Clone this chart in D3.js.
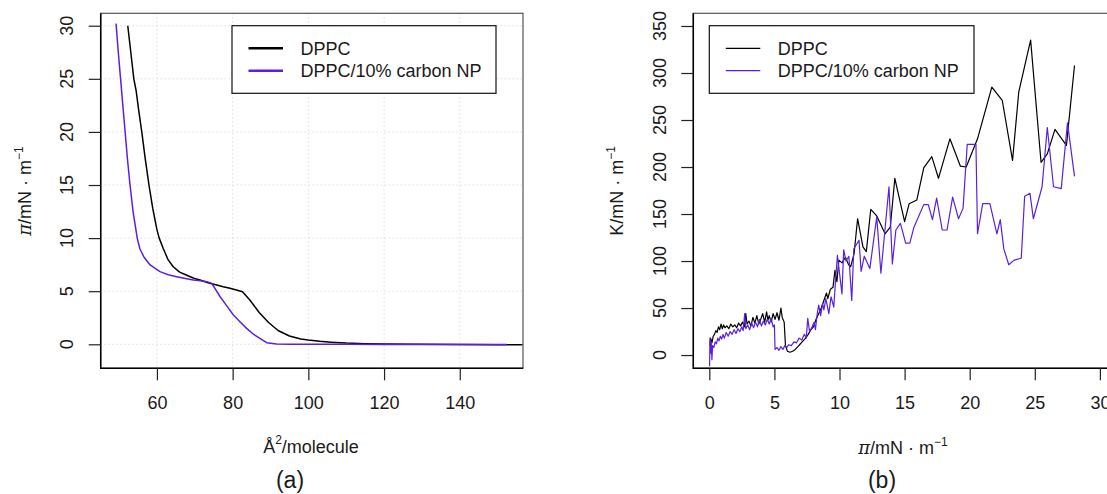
<!DOCTYPE html>
<html>
<head>
<meta charset="utf-8">
<script src="https://cdn.jsdelivr.net/npm/d3@7"></script>
<style>
  body { margin: 0; background: #fff; }
  text { font-family: "Liberation Sans", Arial, sans-serif; fill: #1a1a1a; }
</style>
</head>
<body>
<svg id="my_svg"></svg>
<script>
const width = 1107;
const height = 494;

const BLUE = '#5b1fe4';

// (a) isotherms: [area Å²/molecule, π mN/m]
const dppcIso = [
    [52.3, 30], [53.1, 27.5], [53.9, 25], [54.5, 23.9], [55.2, 22], [56.0, 20], [56.9, 17.5],
    [57.9, 15], [58.9, 12.8], [60.0, 10.8], [60.6, 10], [61.7, 9.0], [62.9, 8.0], [64.3, 7.3],
    [66.0, 6.8], [67.9, 6.5], [69.9, 6.2], [71.4, 6.05], [73.5, 5.8], [75.8, 5.58], [77.5, 5.42],
    [79.3, 5.27], [81.0, 5.12], [82.6, 4.95], [84.6, 4.15], [87.0, 3.0], [89.5, 2.05], [92.0, 1.3],
    [95.0, 0.78], [98.0, 0.5], [100.0, 0.4], [103.0, 0.28], [106.0, 0.2], [110.0, 0.12],
    [115.0, 0.06], [120.0, 0.03], [130.0, 0.0], [140.0, -0.02], [150.0, -0.04], [156.6, -0.05]
];
const npIso = [
    [49.2, 30.2], [49.8, 27.5], [50.4, 25], [51.0, 22.5], [51.6, 20], [52.2, 17.5], [52.9, 15],
    [53.7, 12.5], [54.8, 10], [55.5, 9.0], [56.6, 8.2], [58.2, 7.47], [60.8, 6.84], [63.0, 6.55],
    [65.2, 6.37], [67.5, 6.2], [69.6, 6.05], [71.5, 5.98], [73.2, 5.9], [74.5, 5.74], [75.6, 5.1],
    [76.7, 4.48], [78.5, 3.6], [80.2, 2.76], [82.0, 2.1], [83.7, 1.5], [85.5, 0.95], [87.2, 0.56],
    [89.0, 0.15], [91.6, 0.03], [95.0, 0.01], [100.0, 0.0], [110.0, 0.0], [120.0, -0.01],
    [130.0, -0.02], [140.0, -0.02], [152.4, -0.03]
];

// (b) compression modulus: [π mN/m, K mN/m]
const dppcK = [
    [0.05, 10], [0.1, 18], [0.2, 13], [0.3, 20], [0.4, 22], [0.5, 26], [0.6, 24], [0.7, 30],
    [0.8, 27], [0.9, 33], [1.0, 28], [1.1, 32], [1.2, 29], [1.35, 31], [1.5, 28], [1.65, 33],
    [1.8, 30], [1.95, 32], [2.1, 29], [2.25, 34], [2.4, 31], [2.55, 35], [2.7, 30], [2.8, 44],
    [2.9, 33], [3.05, 36], [3.2, 31], [3.35, 40], [3.5, 34], [3.65, 42], [3.8, 33], [3.95, 38],
    [4.1, 44], [4.25, 35], [4.4, 46], [4.5, 37], [4.6, 42], [4.75, 35], [4.9, 44], [5.05, 38],
    [5.2, 45], [5.35, 37], [5.5, 50], [5.6, 40], [5.75, 35], [5.85, 10], [6.0, 4], [6.2, 3],
    [6.4, 4], [6.6, 6], [6.8, 9], [7.0, 12], [7.2, 15], [7.4, 18], [7.6, 22], [7.8, 27],
    [8.0, 30], [8.2, 38], [8.4, 44], [8.6, 50], [8.8, 58], [9.0, 66], [9.1, 60], [9.3, 70],
    [9.5, 72], [9.65, 90], [9.8, 78], [9.95, 101], [10.2, 98], [10.45, 104], [10.7, 96],
    [10.86, 94], [11.12, 108], [11.39, 145], [11.8, 115], [12.06, 110], [12.4, 155],
    [12.86, 148], [13.5, 129], [13.9, 136], [14.25, 188], [15.0, 142], [15.35, 161],
    [15.94, 165], [16.47, 199], [17.09, 211], [17.6, 188], [18.48, 230], [19.28, 201],
    [19.73, 200], [20.6, 230], [21.7, 285], [22.5, 271], [23.29, 207], [23.77, 280],
    [24.68, 335], [25.48, 205], [25.96, 214], [26.55, 240], [27.43, 223], [28.05, 308]
];
const npK = [
    [0.02, -12], [0.05, 18], [0.1, 2], [0.15, 14], [0.2, -5], [0.25, 10], [0.35, 8], [0.45, 14],
    [0.55, 12], [0.65, 18], [0.75, 15], [0.85, 20], [0.95, 17], [1.05, 22], [1.15, 18], [1.3, 24],
    [1.45, 20], [1.6, 25], [1.75, 22], [1.9, 27], [2.05, 23], [2.2, 28], [2.35, 25], [2.5, 30],
    [2.6, 26], [2.72, 44], [2.8, 28], [2.95, 32], [3.1, 27], [3.25, 34], [3.4, 29], [3.55, 35],
    [3.7, 30], [3.85, 38], [4.0, 31], [4.15, 36], [4.3, 32], [4.45, 38], [4.6, 33], [4.75, 39],
    [4.9, 30], [5.0, 32], [5.05, 6], [5.2, 8], [5.35, 5], [5.5, 9], [5.65, 6], [5.8, 10],
    [5.95, 8], [6.1, 11], [6.3, 10], [6.5, 14], [6.7, 13], [6.9, 18], [7.1, 16], [7.3, 22],
    [7.45, 18], [7.56, 39], [7.7, 25], [7.9, 30], [8.05, 35], [8.15, 27], [8.3, 45], [8.4, 53],
    [8.55, 42], [8.7, 55], [8.8, 48], [8.95, 60], [9.18, 44], [9.35, 62], [9.56, 51], [9.7, 80],
    [9.84, 106], [10.19, 65], [10.32, 112], [10.5, 100], [10.72, 105], [10.94, 58], [11.1, 113],
    [11.5, 122], [11.66, 89], [11.9, 105], [12.33, 92], [12.86, 147], [13.18, 87], [13.8, 179],
    [14.06, 97], [14.33, 133], [14.68, 140], [15.08, 119], [15.4, 119], [15.72, 136],
    [16.47, 160], [16.82, 160], [17.14, 144], [17.46, 167], [17.89, 133], [18.26, 133],
    [18.69, 168], [19.14, 145], [19.49, 156], [19.81, 224], [20.48, 224], [20.6, 129],
    [21.0, 161], [21.55, 161], [22.09, 129], [22.35, 144], [22.62, 113], [23.0, 96],
    [23.42, 101], [23.96, 103], [24.22, 169], [24.63, 172], [24.89, 145], [25.56, 179],
    [25.96, 242], [26.44, 179], [27.03, 177], [27.51, 247], [28.05, 190]
];

const legendLabels = ['DPPC', 'DPPC/10% carbon NP'];
const legendColors = ['#000', BLUE];

const ticksA_x = [60, 80, 100, 120, 140];
const ticksA_y = [0, 5, 10, 15, 20, 25, 30];
const ticksB_x = [0, 5, 10, 15, 20, 25, 30];
const ticksB_y = [0, 50, 100, 150, 200, 250, 300, 350];

const svg = d3.select('#my_svg')
    .attr('width', width)
    .attr('height', height);

const plotTop = 13.3, plotBottom = 368.3;

function drawPanel(opt) {
    const x = d3.scaleLinear().domain(opt.xDomain).range([opt.left, opt.right]);
    const y = d3.scaleLinear().domain(opt.yDomain).range([plotBottom, plotTop]);
    const g = svg.append('g');

    g.append('clipPath').attr('id', opt.id + '_clip')
        .append('rect')
        .attr('x', opt.left).attr('y', plotTop)
        .attr('width', opt.right - opt.left).attr('height', plotBottom - plotTop);

    if (opt.grid) {
        g.append('g').selectAll('line.gx')
            .data(opt.xTicks).enter().append('line')
            .attr('x1', d => x(d)).attr('x2', d => x(d))
            .attr('y1', plotTop).attr('y2', plotBottom)
            .attr('stroke', '#cfcfcf').attr('stroke-dasharray', '1,3');
        g.append('g').selectAll('line.gy')
            .data(opt.yTicks).enter().append('line')
            .attr('x1', opt.left).attr('x2', opt.right)
            .attr('y1', d => y(d)).attr('y2', d => y(d))
            .attr('stroke', '#cfcfcf').attr('stroke-dasharray', '1,3');
    }

    const line = d3.line().x(d => x(d[0])).y(d => y(d[1]));
    const series = g.append('g').attr('clip-path', `url(#${opt.id}_clip)`);
    opt.series.forEach((s, i) => {
        series.append('path')
            .datum(s)
            .attr('fill', 'none')
            .attr('stroke', legendColors[i])
            .attr('stroke-width', opt.lineWidth)
            .attr('stroke-linejoin', 'round')
            .attr('d', line);
    });

    // box
    g.append('rect')
        .attr('x', opt.left).attr('y', plotTop)
        .attr('width', opt.right - opt.left).attr('height', plotBottom - plotTop)
        .attr('fill', 'none').attr('stroke', '#555').attr('stroke-width', 1.2);
    g.append('path')
        .attr('d', `M${opt.left},${plotTop}V${plotBottom}H${opt.right}`)
        .attr('fill', 'none').attr('stroke', '#000').attr('stroke-width', 1.5);

    // x axis
    const xAxis = g.append('g')
        .attr('transform', `translate(0,${plotBottom})`)
        .call(d3.axisBottom(x).tickValues(opt.xTicks).tickSize(12).tickPadding(16));
    xAxis.select('.domain').remove();
    xAxis.selectAll('line').attr('stroke', '#222').attr('stroke-width', 1.2);
    xAxis.selectAll('text').attr('font-size', 18).attr('fill', '#1a1a1a')
        .attr('font-family', '"Liberation Sans", Arial, sans-serif');

    // y axis, labels rotated as in R
    const yAxis = g.append('g')
        .attr('transform', `translate(${opt.left},0)`)
        .call(d3.axisLeft(y).tickValues(opt.yTicks).tickSize(12).tickFormat(''));
    yAxis.select('.domain').remove();
    yAxis.selectAll('line').attr('stroke', '#222').attr('stroke-width', 1.2);
    g.append('g').selectAll('text')
        .data(opt.yTicks).enter().append('text')
        .attr('transform', d => `translate(${opt.left - 27.5},${y(d)}) rotate(-90)`)
        .attr('text-anchor', 'middle')
        .attr('font-size', 18)
        .text(d => d);

    // legend
    const lg = g.append('g');
    lg.append('rect')
        .attr('x', opt.legend.x).attr('y', 25.7)
        .attr('width', opt.legend.w).attr('height', 67.6)
        .attr('fill', '#fff').attr('stroke', '#111').attr('stroke-width', 1.2);
    legendLabels.forEach((lab, i) => {
        const ly = 48.3 + i * 22.4;
        lg.append('line')
            .attr('x1', opt.legend.x + 16.5).attr('x2', opt.legend.x + 51)
            .attr('y1', ly).attr('y2', ly)
            .attr('stroke', legendColors[i]).attr('stroke-width', opt.legendWidth);
        lg.append('text')
            .attr('x', opt.legend.x + 68.5).attr('y', ly + 6.5)
            .attr('font-size', 18)
            .text(lab);
    });
    return g;
}

const gA = drawPanel({
    id: 'a', left: 100.7, right: 523,
    xDomain: [45.15, 156.7], yDomain: [-2.26, 31.17],
    xTicks: ticksA_x, yTicks: ticksA_y, grid: true,
    series: [dppcIso, npIso], lineWidth: 1.5, legendWidth: 2.6,
    legend: { x: 232, w: 264 }
});

const gB = drawPanel({
    id: 'b', left: 693.3, right: 1112,
    xDomain: [-1.23, 30.93], yDomain: [-14.1, 363.5],
    xTicks: ticksB_x, yTicks: ticksB_y, grid: false,
    series: [dppcK, npK], lineWidth: 1.2, legendWidth: 1.3,
    legend: { x: 709.3, w: 264.7 }
});

// axis titles
function piTitle(sel, prefix) {
    if (prefix === 'pi') {
        sel.append('tspan').attr('font-family', '"DejaVu Serif", serif').attr('font-style', 'italic').text('π');
    } else {
        sel.append('tspan').text(prefix);
    }
    sel.append('tspan').text('/mN \u00b7 m');
    sel.append('tspan').attr('font-size', 12).attr('dy', -8).text('\u22121');
}

piTitle(svg.append('text')
    .attr('transform', 'translate(31,191) rotate(-90)')
    .attr('text-anchor', 'middle').attr('font-size', 18), 'pi');

piTitle(svg.append('text')
    .attr('transform', 'translate(623,191) rotate(-90)')
    .attr('text-anchor', 'middle').attr('font-size', 18), 'K');

const xt = svg.append('text')
    .attr('x', 311).attr('y', 453)
    .attr('text-anchor', 'middle').attr('font-size', 18);
xt.append('tspan').text('Å');
xt.append('tspan').attr('font-size', 12).attr('dy', -9).text('2');
xt.append('tspan').attr('dy', 9).text('/molecule');

piTitle(svg.append('text')
    .attr('x', 903).attr('y', 454)
    .attr('text-anchor', 'middle').attr('font-size', 18), 'pi');

svg.selectAll('.panel-label')
    .data([['(a)', 290], ['(b)', 882]])
    .enter().append('text')
    .attr('class', 'panel-label')
    .attr('x', d => d[1]).attr('y', 488)
    .attr('text-anchor', 'middle')
    .attr('font-family', '"Liberation Serif", "DejaVu Serif", serif')
    .attr('font-size', 23)
    .text(d => d[0]);
</script>
</body>
</html>
